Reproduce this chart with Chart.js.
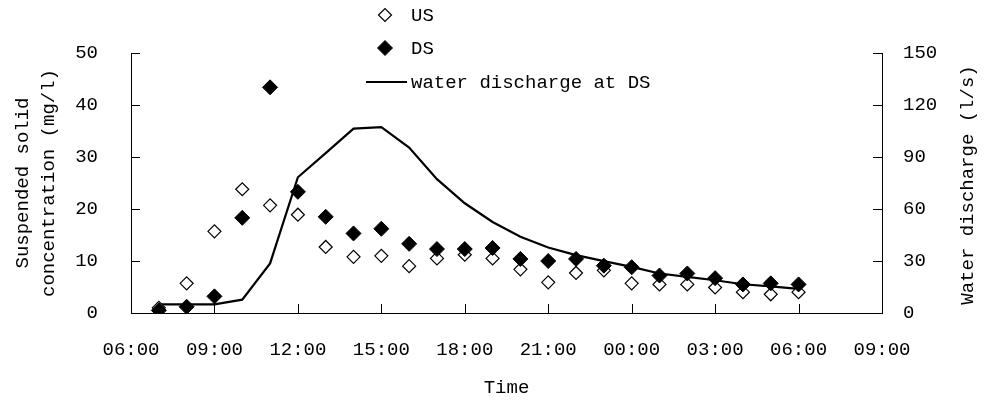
<!DOCTYPE html>
<html>
<head>
<meta charset="utf-8">
<script src="https://cdn.jsdelivr.net/npm/chart.js@4.4.1/dist/chart.umd.min.js"></script>
<style>
  html, body { margin: 0; padding: 0; background: #fff; }
  #wrap { width: 985px; height: 406px; position: relative; }
</style>
</head>
<body>
<div id="wrap"><canvas id="c" width="985" height="406"></canvas></div>
<script>
// ---- Data ----
const sampleHours = [1, 2, 3, 4, 5, 6, 7, 8, 9, 10, 11, 12, 13, 14, 15, 16, 17, 18, 19, 20, 21, 22, 23, 24]; // hours after 06:00 (07:00 ... 06:00 next day)
const usConcentration = [1.0, 5.7, 15.7, 23.8, 20.7, 18.9, 12.7, 10.8, 11.0, 9.0, 10.5, 11.2, 10.5, 8.4, 5.9, 7.7, 8.2, 5.7, 5.5, 5.5, 4.9, 4.0, 3.6, 4.0];
const dsConcentration = [0.5, 1.2, 3.2, 18.3, 43.4, 23.3, 18.5, 15.3, 16.2, 13.3, 12.3, 12.3, 12.5, 10.4, 10.0, 10.4, 9.1, 8.8, 7.2, 7.6, 6.7, 5.5, 5.7, 5.5];
const dsDischarge = [5.0, 5.0, 5.0, 7.7, 28.6, 78.3, 92.2, 106.4, 107.2, 95.4, 77.2, 63.3, 52.5, 44.0, 37.8, 33.4, 29.9, 26.6, 22.8, 20.8, 18.9, 16.6, 15.4, 13.9];
const xTickLabels = ['06:00', '09:00', '12:00', '15:00', '18:00', '21:00', '00:00', '03:00', '06:00', '09:00'];
const seriesNames = ['US', 'DS', 'water discharge at DS'];
const rightAxisTitle = 'Water discharge (l/s)';

const FONT = 'Liberation Mono';
const FSIZE = 19;

const toPoints = (vals) => vals.map((v, i) => ({ x: sampleHours[i], y: v }));

// inward tick marks
const inwardTicks = {
  id: 'inwardTicks',
  afterDraw(chart) {
    const ctx = chart.ctx;
    const a = chart.chartArea;
    const L = 9;
    ctx.save();
    ctx.strokeStyle = '#000';
    ctx.lineWidth = 1;
    const sx = chart.scales.x;
    sx.ticks.forEach((t, i) => {
      const p = Math.round(sx.getPixelForTick(i)) + 0.5;
      ctx.beginPath(); ctx.moveTo(p, a.bottom); ctx.lineTo(p, a.bottom - L); ctx.stroke();
    });
    const sy = chart.scales.y;
    sy.ticks.forEach((t, i) => {
      const p = Math.round(sy.getPixelForTick(i)) + 0.5;
      ctx.beginPath(); ctx.moveTo(a.left, p); ctx.lineTo(a.left + L, p); ctx.stroke();
    });
    const sr = chart.scales.y1;
    sr.ticks.forEach((t, i) => {
      const p = Math.round(sr.getPixelForTick(i)) + 0.5;
      ctx.beginPath(); ctx.moveTo(a.right, p); ctx.lineTo(a.right - L, p); ctx.stroke();
    });
    // right axis title, reading bottom-to-top like the original
    const sc = chart.scales.y1;
    ctx.save();
    ctx.translate(sc.right - 17, (a.top + a.bottom) / 2 + 2);
    ctx.rotate(-Math.PI / 2);
    ctx.font = FSIZE + 'px "' + FONT + '"';
    ctx.fillStyle = '#000';
    ctx.textAlign = 'center';
    ctx.textBaseline = 'middle';
    ctx.fillText(rightAxisTitle, 0, 0);
    ctx.restore();
    ctx.restore();
  }
};

// legend drawn at the top, overlapping the plot like the original
const customLegend = {
  id: 'customLegend',
  afterDraw(chart) {
    const ctx = chart.ctx;
    const ds = chart.data.datasets;
    const markerX = 385, textX = 411;
    const rows = [15, 48, 82];
    ctx.save();
    ctx.font = FSIZE + 'px "' + FONT + '"';
    ctx.textBaseline = 'middle';
    ds.forEach((d, i) => {
      const y = rows[i];
      if (d.showLine) {
        ctx.strokeStyle = d.borderColor;
        ctx.lineWidth = d.borderWidth;
        ctx.beginPath(); ctx.moveTo(366, y); ctx.lineTo(407, y); ctx.stroke();
      } else {
        const r = d.pointRadius;
        ctx.fillStyle = d.pointBackgroundColor; ctx.strokeStyle = d.pointBorderColor;
        ctx.beginPath();
        ctx.moveTo(markerX - r, y); ctx.lineTo(markerX, y - r); ctx.lineTo(markerX + r, y); ctx.lineTo(markerX, y + r); ctx.closePath();
        ctx.fill(); ctx.lineWidth = d.pointBorderWidth; ctx.stroke();
      }
      ctx.fillStyle = '#000';
      ctx.fillText(d.label, textX, y + 1);
    });
    ctx.restore();
  }
};

new Chart(document.getElementById('c'), {
  data: {
    datasets: [
      {
        type: 'line', label: seriesNames[0], data: toPoints(usConcentration), yAxisID: 'y', showLine: false,
        pointStyle: 'rectRot', pointRadius: 6.5, pointBorderWidth: 1.2,
        pointBackgroundColor: '#fff', pointBorderColor: '#000', order: 2
      },
      {
        type: 'line', label: seriesNames[1], data: toPoints(dsConcentration), yAxisID: 'y', showLine: false,
        pointStyle: 'rectRot', pointRadius: 7.5, pointBorderWidth: 1,
        pointBackgroundColor: '#000', pointBorderColor: '#000', order: 1
      },
      {
        type: 'line', label: seriesNames[2], data: toPoints(dsDischarge), yAxisID: 'y1', showLine: true,
        borderColor: '#000', borderWidth: 2.2, pointRadius: 0, tension: 0, fill: false, order: 3
      }
    ]
  },
  options: {
    responsive: false,
    animation: false,
    devicePixelRatio: 1,
    layout: { padding: { top: 53, left: 0, right: 0, bottom: 0 } },
    plugins: { legend: { display: false }, tooltip: { enabled: false } },
    scales: {
      x: {
        type: 'linear', min: 0, max: 27,
        afterFit: (s) => { s.height = 93; },
        ticks: {
          stepSize: 3, color: '#000', padding: 26, maxRotation: 0, autoSkip: false,
          font: { family: FONT, size: FSIZE },
          callback: (v, i) => xTickLabels[i]
        },
        grid: { drawOnChartArea: false, drawTicks: false },
        border: { display: true, color: '#000', width: 1 },
        title: {
          display: true, text: 'Time', color: '#000',
          font: { family: FONT, size: FSIZE, lineHeight: 1.37 }, padding: { top: 0, bottom: 5 }
        }
      },
      y: {
        type: 'linear', position: 'left', min: 0, max: 50,
        afterFit: (s) => { s.width = 131; },
        ticks: { stepSize: 10, color: '#000', padding: 33, font: { family: FONT, size: FSIZE } },
        grid: { drawOnChartArea: false, drawTicks: false },
        border: { display: true, color: '#000', width: 1 },
        title: {
          display: true, text: ['Suspended solid', 'concentration (mg/l)'], color: '#000',
          font: { family: FONT, size: FSIZE, lineHeight: 1.37 }, padding: { top: 10, bottom: 0 }
        }
      },
      y1: {
        type: 'linear', position: 'right', min: 0, max: 150,
        afterFit: (s) => { s.width = 103; },
        ticks: { stepSize: 30, color: '#000', padding: 21, font: { family: FONT, size: FSIZE } },
        grid: { drawOnChartArea: false, drawTicks: false },
        border: { display: true, color: '#000', width: 1 },
        title: { display: false }
      }
    }
  },
  plugins: [inwardTicks, customLegend]
});
</script>
</body>
</html>
